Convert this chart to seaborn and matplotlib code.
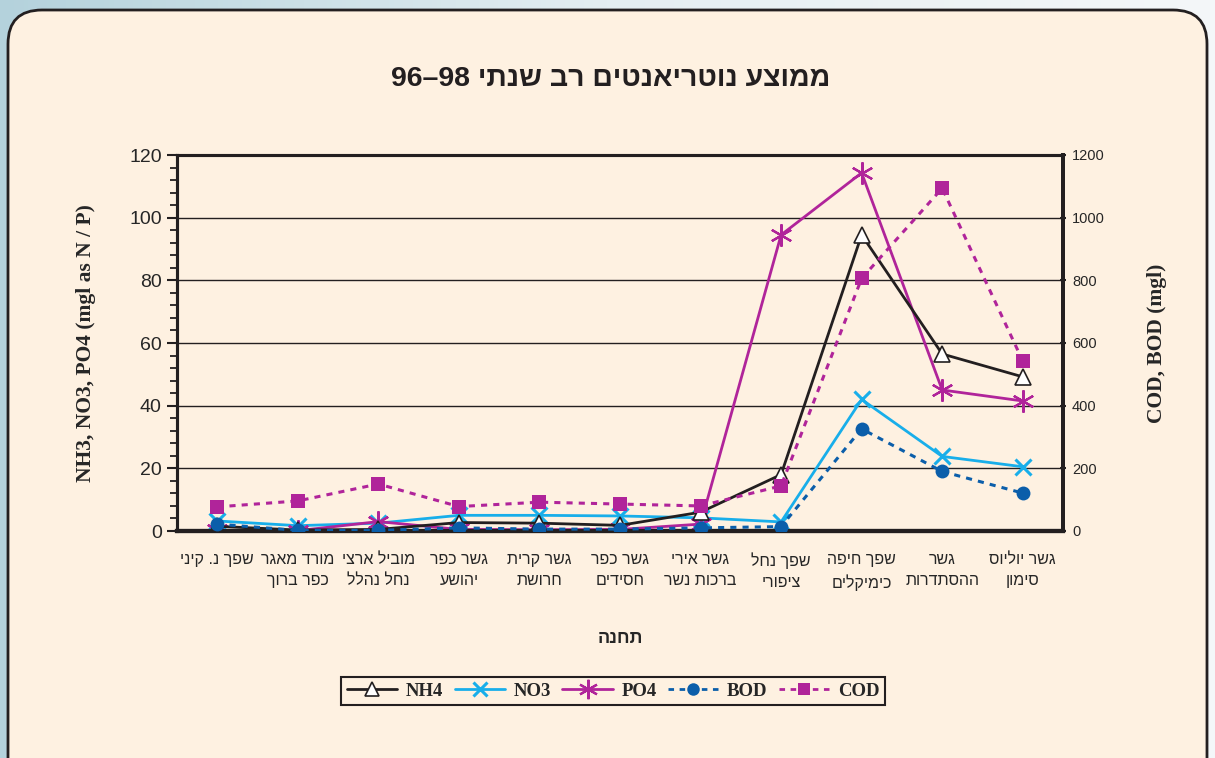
import re
import numpy as np
import pandas as pd
import matplotlib
matplotlib.use('Agg')
import matplotlib.pyplot as plt
from matplotlib.patches import FancyBboxPatch
from matplotlib.lines import Line2D
from matplotlib.ticker import MultipleLocator, FixedLocator
from matplotlib.transforms import IdentityTransform
import seaborn as sns

# stations (logical Hebrew order, one entry per station, "\n" splits the label lines)
stations = ['שפך נ. קיני', 'מורד מאגר\nכפר ברוך', 'מוביל ארצי\nנחל נהלל', 'גשר כפר\nיהושע',
            'גשר קרית\nחרושת', 'גשר כפר\nחסידים', 'גשר אירי\nברכות נשר', 'שפך נחל\nציפורי',
            'שפך חיפה\nכימיקלים', 'גשר\nההסתדרות', 'גשר יוליוס\nסימון']

# left axis (mg/l as N / P)
nh4 = [1.5, 0.3, 0.5, 2.7, 2.5, 1.8, 6.0, 18.0, 94.5, 56.5, 49.2]
no3 = [3.2, 1.7, 2.5, 5.0, 5.0, 4.8, 4.2, 2.9, 42.0, 23.8, 20.5]
po4 = [0.2, 0.1, 3.0, 0.5, 0.4, 0.5, 2.2, 94.5, 114.3, 45.0, 41.5]
# right axis (mg/l)
bod = [22, 2, 2, 10, 6, 6, 10, 14, 326, 190, 121]
cod = [77, 96, 150, 78, 92, 86, 80, 144, 806, 1094, 543]

title = 'ממוצע נוטריאנטים רב שנתי 96–98'
xlabel = 'תחנה'
ylabel_left = 'NH3, NO3, PO4 (mgl as N / P)'
ylabel_right = 'COD, BOD (mgl)'


def heb(s):
    # visual order for matplotlib (no bidi support): reverse, keep digit runs LTR
    out = []
    for line in s.split('\n'):
        r = line[::-1]
        r = re.sub(r'[0-9][0-9\-–.]*[0-9]', lambda m: m.group(0)[::-1], r)
        out.append(r)
    return '\n'.join(out)


pos = np.arange(len(stations))
df = pd.DataFrame({'pos': pos, 'NH4': nh4, 'NO3': no3, 'PO4': po4, 'BOD': bod, 'COD': cod})

sns.set_style('white')
plt.rcParams['font.family'] = ['Liberation Sans', 'DejaVu Sans']

panel = '#FEF1E1'
fig = plt.figure(figsize=(12.15, 7.58), dpi=100)

# background gradient + rounded panel
bg = fig.add_axes([0, 0, 1, 1], zorder=-10)
grad = np.linspace(0, 1, 256)[None, :]
bg.imshow(grad, aspect='auto', extent=[0, 1, 0, 1],
          cmap=matplotlib.colors.LinearSegmentedColormap.from_list('bgc', ['#B4D2DC', '#E4EEF2', '#F4F7F9']))
bg.axis('off')
fig.patches.append(FancyBboxPatch((8, -40), 1199, 788, boxstyle='round,pad=0,rounding_size=34',
                                  transform=IdentityTransform(), facecolor=panel,
                                  edgecolor='#231F20', linewidth=2, zorder=-5))

ax = fig.add_axes([177 / 1215, 1 - 531 / 758, (1063 - 177) / 1215, (531 - 155) / 758])
ax.set_facecolor(panel)
ax2 = ax.twinx()

black = '#231F20'
c_no3 = '#18AEEA'
c_mag = '#B0249A'
c_bod = '#0B5EAA'
dash = (0, (2.0, 2.0))
star = (6, 2, 0)

sns.lineplot(data=df, x='pos', y='NH4', ax=ax, color=black, lw=2, marker='^', markersize=11,
             markerfacecolor='white', markeredgecolor=black, markeredgewidth=1.2, zorder=5)
sns.lineplot(data=df, x='pos', y='NO3', ax=ax, color=c_no3, lw=2, marker='x', markersize=11,
             markeredgecolor=c_no3, markeredgewidth=2.2, zorder=4)
sns.lineplot(data=df, x='pos', y='PO4', ax=ax, color=c_mag, lw=2, marker=star, markersize=16,
             markeredgecolor=c_mag, markeredgewidth=1.6, zorder=4)
sns.lineplot(data=df, x='pos', y='BOD', ax=ax2, color=c_bod, lw=2.2, linestyle=dash,
             marker='o', markersize=10, markeredgecolor=c_bod, markeredgewidth=0, zorder=4)
sns.lineplot(data=df, x='pos', y='COD', ax=ax2, color=c_mag, lw=2.2, linestyle=dash,
             marker='s', markersize=10, markeredgecolor=c_mag, markeredgewidth=0, zorder=4)

# left axis
ax.set_xlim(-0.5, len(stations) - 0.5)
ax.set_ylim(0, 120)
ax.set_yticks(range(0, 121, 20))
ax.yaxis.set_minor_locator(MultipleLocator(4))
ax.grid(axis='y', color=black, lw=1)
ax.tick_params(axis='y', which='major', length=7, width=1.5, color=black, labelsize=14, pad=4)
ax.tick_params(axis='y', which='minor', length=5, width=1.3, color=black)
ax.set_xticks(pos)
ax.set_xticklabels([heb(s) for s in stations], fontsize=11.5, linespacing=1.55,
                   family=['Liberation Sans Narrow', 'Liberation Sans', 'DejaVu Sans'])
ax.xaxis.set_minor_locator(FixedLocator(np.arange(-0.5, len(stations), 1)))
ax.tick_params(axis='x', which='major', length=0, pad=15)
ax.tick_params(axis='x', which='minor', length=6, width=1.3, color=black, direction='out')
ax.set_xlabel(heb(xlabel), fontsize=13, fontweight='bold', labelpad=28)
ax.set_ylabel(ylabel_left, fontsize=15.5, fontweight='bold', family=['Liberation Serif'], labelpad=24)

# right axis
ax2.set_ylim(0, 1200)
ax2.set_yticks(range(0, 1201, 200))
ax2.tick_params(axis='y', length=5, width=1.5, color=black, labelsize=10.5, direction='inout', pad=4)
ax2.set_ylabel(ylabel_right, fontsize=15.5, fontweight='bold', family=['Liberation Serif'], labelpad=30)
ax2.set_xlabel('')

for a in (ax, ax2):
    for sp in a.spines.values():
        sp.set_color(black)
        sp.set_linewidth(2.2)
    a.spines['bottom'].set_linewidth(3)
    a.spines['right'].set_linewidth(2.8)

fig.text(611 / 1215, 1 - 79 / 758, heb(title), ha='center', va='center', fontsize=20.5,
         fontweight='bold', color=black)

handles = [
    Line2D([], [], color=black, lw=2, marker='^', markersize=10, markerfacecolor='white',
           markeredgecolor=black, markeredgewidth=1.2),
    Line2D([], [], color=c_no3, lw=2, marker='x', markersize=10, markeredgewidth=2.2),
    Line2D([], [], color=c_mag, lw=2, marker=star, markersize=14, markeredgewidth=1.6),
    Line2D([], [], color=c_bod, lw=2, linestyle=dash, marker='o', markersize=9,
           markeredgewidth=0),
    Line2D([], [], color=c_mag, lw=2, linestyle=dash, marker='s', markersize=9,
           markeredgewidth=0),
]
leg = fig.legend(handles, ['NH4', 'NO3', 'PO4', 'BOD', 'COD'], loc='center',
                 bbox_to_anchor=(613 / 1215, 1 - 691 / 758), ncol=5, frameon=True, fancybox=False,
                 prop={'family': 'Liberation Serif', 'weight': 'bold', 'size': 13.5},
                 handlelength=2.7, handletextpad=0.45, columnspacing=0.6, borderpad=0.3,
                 borderaxespad=0, edgecolor=black, facecolor=panel)
leg.get_frame().set_linewidth(1.5)
leg.get_frame().set_alpha(1)

fig.savefig('out.png', dpi=100, facecolor=fig.get_facecolor())
